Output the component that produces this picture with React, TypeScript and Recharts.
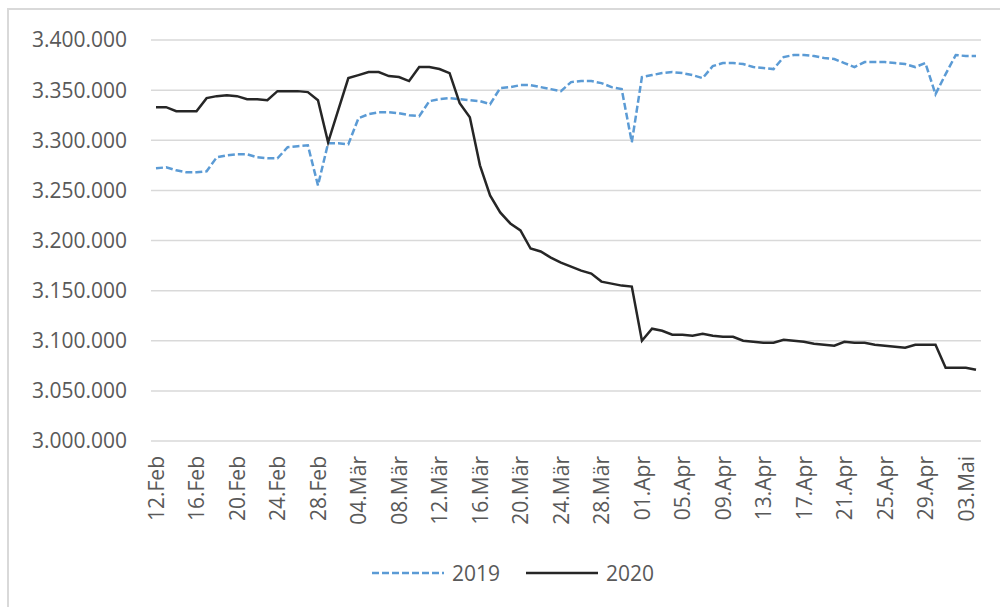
import { LineChart, Line, XAxis, YAxis, CartesianGrid, Legend } from 'recharts';

const dates = [
  '12.Feb', '13.Feb', '14.Feb', '15.Feb', '16.Feb', '17.Feb', '18.Feb', '19.Feb', '20.Feb', '21.Feb',
  '22.Feb', '23.Feb', '24.Feb', '25.Feb', '26.Feb', '27.Feb', '28.Feb',
  '01.Mär', '02.Mär', '03.Mär', '04.Mär', '05.Mär', '06.Mär', '07.Mär', '08.Mär', '09.Mär', '10.Mär',
  '11.Mär', '12.Mär', '13.Mär', '14.Mär', '15.Mär', '16.Mär', '17.Mär', '18.Mär', '19.Mär', '20.Mär',
  '21.Mär', '22.Mär', '23.Mär', '24.Mär', '25.Mär', '26.Mär', '27.Mär', '28.Mär', '29.Mär', '30.Mär', '31.Mär',
  '01.Apr', '02.Apr', '03.Apr', '04.Apr', '05.Apr', '06.Apr', '07.Apr', '08.Apr', '09.Apr', '10.Apr',
  '11.Apr', '12.Apr', '13.Apr', '14.Apr', '15.Apr', '16.Apr', '17.Apr', '18.Apr', '19.Apr', '20.Apr',
  '21.Apr', '22.Apr', '23.Apr', '24.Apr', '25.Apr', '26.Apr', '27.Apr', '28.Apr', '29.Apr', '30.Apr',
  '01.Mai', '02.Mai', '03.Mai', '04.Mai',
];

const values2019 = [
  3272000, 3273000, 3270000, 3268000, 3268000, 3269000, 3283000, 3285000, 3286000, 3286000,
  3283000, 3282000, 3282000, 3293000, 3294000, 3295000, 3255000, 3297000, 3297000, 3296000,
  3322000, 3326000, 3328000, 3328000, 3327000, 3325000, 3324000, 3339000, 3341000, 3342000,
  3341000, 3340000, 3339000, 3336000, 3352000, 3353000, 3355000, 3355000, 3353000, 3351000,
  3349000, 3358000, 3359000, 3359000, 3357000, 3353000, 3351000, 3298000, 3363000, 3365000,
  3367000, 3368000, 3367000, 3365000, 3362000, 3374000, 3377000, 3377000, 3376000, 3373000,
  3372000, 3371000, 3383000, 3385000, 3385000, 3384000, 3382000, 3381000, 3377000, 3373000,
  3378000, 3378000, 3378000, 3377000, 3376000, 3373000, 3377000, 3346000, 3366000, 3385000,
  3384000, 3384000,
];

const values2020 = [
  3333000, 3333000, 3329000, 3329000, 3329000, 3342000, 3344000, 3345000, 3344000, 3341000,
  3341000, 3340000, 3349000, 3349000, 3349000, 3348000, 3340000, 3298000, 3330000, 3362000,
  3365000, 3368000, 3368000, 3364000, 3363000, 3359000, 3373000, 3373000, 3371000, 3367000,
  3337000, 3323000, 3275000, 3245000, 3228000, 3217000, 3210000, 3192000, 3189000, 3183000,
  3178000, 3174000, 3170000, 3167000, 3159000, 3157000, 3155000, 3154000, 3100000, 3112000,
  3110000, 3106000, 3106000, 3105000, 3107000, 3105000, 3104000, 3104000, 3100000, 3099000,
  3098000, 3098000, 3101000, 3100000, 3099000, 3097000, 3096000, 3095000, 3099000, 3098000,
  3098000, 3096000, 3095000, 3094000, 3093000, 3096000, 3096000, 3096000, 3073000, 3073000,
  3073000, 3071000,
];

const yTicks = [3000000, 3050000, 3100000, 3150000, 3200000, 3250000, 3300000, 3350000, 3400000];

const data = dates.map((date, i) => ({ date, y2019: values2019[i], y2020: values2020[i] }));

const FONT = '"Open Sans", "Liberation Sans", sans-serif';
const TEXT = '#595959';

const series = [
  { key: 'y2019', name: '2019', color: '#5b9bd5', dash: '7 3' },
  { key: 'y2020', name: '2020', color: '#262626', dash: undefined as string | undefined },
];

const formatDe = (v: number) => String(v).replace(/\B(?=(\d{3})+(?!\d))/g, '.');

function DateTick({ x, y, payload }: any) {
  return (
    <text
      x={x}
      y={y}
      transform={`rotate(-90, ${x}, ${y})`}
      textAnchor="end"
      dominantBaseline="central"
      fill={TEXT}
      fontSize={21}
      fontFamily={FONT}
    >
      {payload.value}
    </text>
  );
}

function LegendBox() {
  return (
    <div style={{ display: 'flex', alignItems: 'center', fontFamily: FONT, fontSize: 21, color: TEXT }}>
      {series.map((s, i) => (
        <div key={s.key} style={{ display: 'flex', alignItems: 'center', marginLeft: i === 0 ? 0 : 26 }}>
          <svg width={72} height={10}>
            <line x1={0} y1={5} x2={72} y2={5} stroke={s.color} strokeWidth={2.5} strokeDasharray={s.dash} />
          </svg>
          <span style={{ marginLeft: 8, lineHeight: '26px' }}>{s.name}</span>
        </div>
      ))}
    </div>
  );
}

export default function App() {
  return (
    <div style={{ position: 'absolute', left: 0, top: 0, width: 1000, height: 607, overflow: 'hidden', background: '#fff' }}>
      <div
        style={{
          position: 'absolute',
          left: 7,
          top: 8,
          width: 1010,
          height: 620,
          border: '2px solid #d9d9d9',
          boxSizing: 'border-box',
        }}
      />
      <LineChart width={1000} height={607} data={data} margin={{ top: 40, right: 19, bottom: 0, left: 0 }}>
        <CartesianGrid vertical={false} stroke="#d9d9d9" strokeWidth={1.5} />
        <XAxis
          dataKey="date"
          scale="point"
          padding={{ left: 5, right: 5 }}
          interval={3}
          tick={<DateTick />}
          tickLine={false}
          axisLine={false}
          tickSize={6}
          tickMargin={9}
          height={166}
        />
        <YAxis
          domain={[3000000, 3400000]}
          ticks={yTicks}
          tickFormatter={formatDe}
          tick={{ fill: TEXT, fontSize: 21, fontFamily: FONT }}
          tickLine={false}
          axisLine={false}
          tickSize={6}
          tickMargin={18}
          width={151}
          allowDataOverflow
        />
        {series.map((s) => (
          <Line
            key={s.key}
            dataKey={s.key}
            name={s.name}
            type="linear"
            stroke={s.color}
            strokeWidth={2.5}
            strokeDasharray={s.dash}
            dot={false}
            activeDot={false}
            isAnimationActive={false}
          />
        ))}
        <Legend
          layout="horizontal"
          verticalAlign="middle"
          align="center"
          content={<LegendBox />}
          wrapperStyle={{ top: 560, left: 372, width: 320 }}
        />
      </LineChart>
    </div>
  );
}
